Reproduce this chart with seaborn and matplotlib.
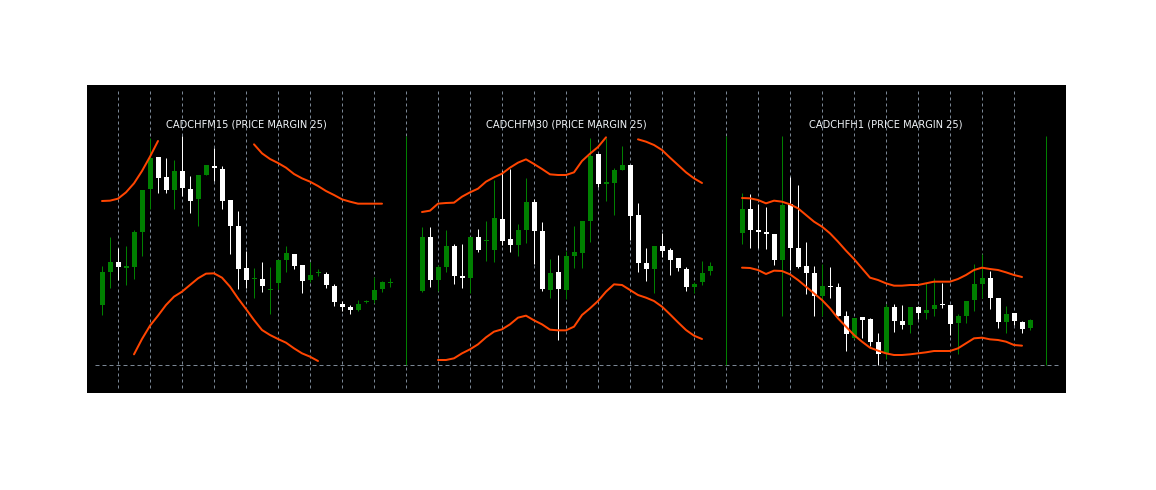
import numpy as np
import pandas as pd
import matplotlib
matplotlib.use("Agg")
import matplotlib.pyplot as plt
import seaborn as sns

nan = np.nan

# chart titles, one per timeframe panel
titles = ["CADCHFM15 (PRICE MARGIN 25)", "CADCHFM30 (PRICE MARGIN 25)", "CADCHFH1 (PRICE MARGIN 25)"]

# M15 candles (price points)
m15_open = [340, 439, 469, 452, 454, 559, 689, 783, 724, 685, 742, 688, 659, 731, 757, 748, 655, 577, 451, 418,
            419, 384, 406, 475, 493, 460, 415, 436, 433, 397, 343, 334, 325, 350, 355, 388, 406]
m15_high = [457, 544, 512, 517, 565, 685, 840, 783, 781, 775, 847, 727, 730, 760, 811, 757, 655, 622, 502, 451,
            469, 455, 475, 517, 493, 460, 469, 448, 439, 403, 352, 340, 355, 355, 424, 412, 421]
m15_low = [310, 392, 415, 400, 418, 487, 628, 676, 675, 628, 667, 617, 578, 730, 712, 628, 494, 388, 391, 360,
           380, 313, 388, 439, 448, 376, 410, 427, 392, 337, 322, 313, 322, 346, 346, 379, 394]
m15_close = [438, 469, 454, 457, 559, 685, 781, 721, 686, 742, 692, 652, 730, 760, 750, 652, 578, 449, 415, 422,
             397, 386, 475, 496, 457, 413, 430, 439, 400, 349, 334, 325, 343, 353, 385, 409, 408]
m15_upper = [652, 653, 659, 678, 705, 742, 785, 832, nan, nan, nan, nan, nan, nan, nan, nan, nan, nan, nan,
             822, 795, 778, 766, 752, 733, 720, 710, 697, 682, 670, 657, 650, 644, 644, 644, 644, nan]
m15_lower = [nan, nan, nan, nan, 192, 238, 278, 308, 340, 365, 380, 400, 420, 434, 435, 422, 395, 360, 328, 295,
             265, 250, 238, 227, 210, 195, 185, 172, nan, nan, nan, nan, nan, nan, nan, nan, nan]

# M30 candles
m30_open = [383, 544, 416, 455, 517, 427, 422, 544, 533, 506, 598, 538, 520, 566, 649, 562, 386, 439, 386, 488,
            497, 593, 793, 703, 707, 746, 760, 610, 467, 449, 517, 506, 481, 449, 395, 410, 443]
m30_high = [574, 574, 460, 565, 522, 522, 544, 568, 592, 715, 742, 748, 583, 721, 658, 589, 478, 490, 502, 577,
            592, 841, 793, 841, 751, 817, 760, 646, 511, 517, 556, 511, 481, 455, 410, 473, 470]
m30_low = [378, 395, 383, 440, 403, 390, 377, 500, 473, 468, 521, 500, 488, 527, 464, 383, 362, 236, 359, 452,
           452, 530, 695, 653, 611, 746, 536, 439, 413, 377, 485, 431, 443, 383, 377, 401, 431]
m30_close = [544, 416, 455, 517, 428, 421, 544, 506, 535, 601, 533, 521, 565, 649, 563, 389, 436, 389, 487, 499,
             592, 787, 703, 709, 745, 760, 608, 467, 449, 517, 503, 476, 452, 395, 403, 436, 457]
m30_upper = [619, 623, 644, 646, 647, 665, 678, 689, 710, 723, 734, 752, 767, 777, 763, 748, 732, 730, 730, 738,
             772, 794, 814, 843, nan, nan, nan, 837, 830, 820, 805, 782, 760, 738, 720, 706, nan]
m30_lower = [nan, nan, 175, 175, 180, 195, 207, 222, 243, 260, 267, 282, 302, 308, 294, 282, 266, 264, 264, 275,
             310, 330, 352, 380, 402, 400, 385, 370, 362, 352, 335, 312, 288, 265, 248, 238, nan]

# H1 candles
h1_open = [557, 628, 565, 560, 554, 475, 643, 511, 457, 436, 368, 397, 394, 308, 240, 304, 299, 230, 194, 334,
           292, 281, 334, 317, 329, 343, 340, 287, 308, 355, 403, 421, 361, 289, 316, 289, 271]
h1_high = [676, 673, 643, 634, 554, 847, 724, 700, 529, 457, 464, 454, 406, 323, 301, 304, 302, 257, 344, 344,
           341, 334, 337, 407, 422, 406, 340, 314, 352, 463, 494, 442, 361, 337, 316, 292, 298]
h1_low = [524, 512, 512, 509, 461, 307, 446, 452, 374, 308, 308, 362, 308, 203, 237, 242, 218, 160, 179, 260,
          269, 257, 299, 299, 308, 332, 251, 194, 287, 322, 361, 327, 270, 257, 281, 257, 265]
h1_close = [628, 566, 560, 554, 475, 640, 512, 455, 437, 368, 397, 394, 308, 254, 301, 296, 228, 194, 334, 293,
            280, 334, 317, 325, 340, 340, 284, 308, 352, 403, 421, 361, 289, 313, 292, 269, 295]
h1_upper = [661, 660, 655, 645, 653, 650, 642, 630, 610, 590, 575, 555, 530, 503, 478, 450, 422, 415, 405, 398,
            398, 400, 400, 405, 410, 410, 410, 418, 430, 445, 452, 448, 445, 438, 430, 424, nan]
h1_lower = [452, 451, 445, 433, 443, 442, 432, 415, 395, 375, 355, 330, 300, 275, 250, 230, 212, 203, 195, 190,
            190, 192, 195, 198, 202, 202, 202, 210, 225, 240, 242, 237, 235, 230, 220, 218, nan]

panels = [
    (m15_open, m15_high, m15_low, m15_close, m15_upper, m15_lower),
    (m30_open, m30_high, m30_low, m30_close, m30_upper, m30_lower),
    (h1_open, h1_high, h1_low, h1_close, h1_upper, h1_lower),
]

slots = 40          # bar slots per panel
bull = "#008000"
bear = "#ffffff"
band = "#ff4500"
grid = "#7a8694"
px = 0.72           # one pixel in points at 100 dpi

sns.set_style("dark")
plt.rcParams['font.family'] = ['DejaVu Sans']

fig = plt.figure(figsize=(11.56, 4.9), dpi=100)
ax = fig.add_axes([87 / 1156, 97 / 490, 979 / 1156, 308 / 490])
ax.set_facecolor("black")

# dotted time grid and dashed baseline
grid_x = np.arange(2, 118, 4)
ax.vlines(grid_x, 91, 985, colors=grid, linewidth=px, linestyles=(0, (3, 3)), zorder=1)
ax.hlines(160, -0.9, 119.5, colors=grid, linewidth=px, linestyles=(0, (4, 3)), zorder=1)

rows = []
seg = 0
for i, (o, h, l, c, up, lo) in enumerate(panels):
    o, h, l, c = map(np.array, (o, h, l, c))
    x = np.arange(len(o)) + i * slots
    colors = np.where(c >= o, bull, bear)
    ax.vlines(x, l, h, colors=colors, linewidth=px, zorder=2)
    bottom = np.minimum(o, c)
    height = np.maximum(np.abs(c - o), 3)
    ax.bar(x, height, bottom=bottom, width=0.625, color=colors, linewidth=0, zorder=3)

    # split envelope lines into visible runs
    for line in (up, lo):
        prev = False
        for xi, v in zip(x, line):
            if np.isnan(v):
                prev = False
                continue
            if not prev:
                seg += 1
            rows.append({"x": xi, "p": v, "seg": seg})
            prev = True

    ax.text(18 + i * slots, 882, titles[i], ha="center", va="center",
            fontsize=7.1, color="#f2f6fa", zorder=5)

bands = pd.DataFrame(rows)
sns.lineplot(data=bands, x="x", y="p", units="seg", estimator=None, color=band,
             linewidth=2 * px, ax=ax, zorder=4, legend=False)

# panel separators
ax.vlines([38, 78, 118], 160, 847, colors=bull, linewidth=px, zorder=2)

ax.set_xlim(-1.875, 120.5)
ax.set_ylim(76, 1000)
ax.set_xticks([])
ax.set_yticks([])
ax.set_xlabel("")
ax.set_ylabel("")
for s in ax.spines.values():
    s.set_visible(False)

fig.savefig("out.png", dpi=100, facecolor="white")
